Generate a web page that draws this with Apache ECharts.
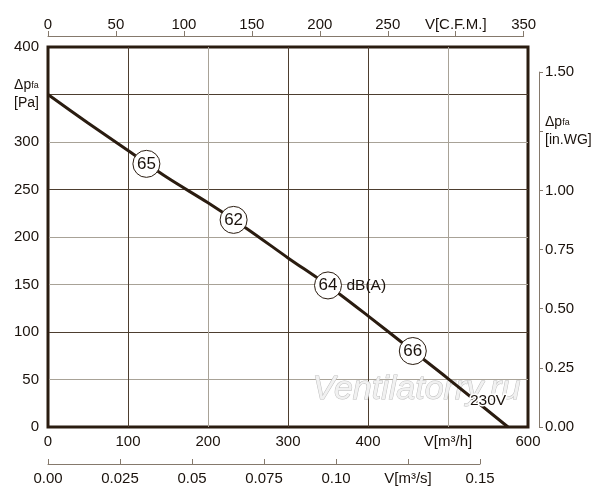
<!DOCTYPE html>
<html>
<head>
<meta charset="utf-8">
<script src="https://cdn.jsdelivr.net/npm/echarts@6/dist/echarts.min.js"></script>
</head>
<body style="margin:0">
<div id="main" style="width:600px;height:500px;"></div>
<script type="text/javascript">
    // характеристика вентилятора 230V
    var flow = [0, 50, 100, 150, 200, 250, 300, 350, 400, 450, 500, 575];
    var pressure = [350, 320, 291, 262, 236, 208, 178, 149, 117, 84, 51, 0];

    // точки шума, dB(A)
    var dbFlow = [123, 232, 350, 456];
    var dbPressure = [277, 218, 149, 80];
    var dbValues = [65, 62, 64, 66];

    // подписи осей
    var flowLabels = ['0', '100', '200', '300', '400', 'V[m³/h]', '600'];
    var paLabels = ['0', '50', '100', '150', '200', '250', '300', '{d|Δp}{s|fa}\n{u|[Pa]}', '400'];
    var cfmLabels = ['0', '50', '100', '150', '200', '250', 'V[C.F.M.]', '350'];
    var inwgLabels = ['0.00', '0.25', '0.50', '0.75', '1.00', '{d|Δp}{s|fa}\n{u|[in.WG]}', '1.50'];
    var m3sLabels = ['0.00', '0.025', '0.05', '0.075', '0.10', 'V[m³/s]', '0.15'];

    var dark = '#2a1c10';
    var mid = '#4d3e2f';
    var light = '#a8a297';
    var txt = '#1a120c';
    var aux = '#85796c';

    var richLabel = {
        d: {fontSize: 14, color: txt, align: 'left', lineHeight: 18},
        s: {fontSize: 9, color: txt, align: 'left', lineHeight: 14},
        u: {fontSize: 14, color: txt, align: 'left', lineHeight: 18}
    };

    var myChart = echarts.init(document.getElementById('main'));

    var option = {
        backgroundColor: '#fff',
        textStyle: {fontFamily: 'Liberation Sans, Arial, sans-serif'},
        grid: [
            {left: 48, top: 47, width: 480, height: 380, show: true, borderColor: dark, borderWidth: 3},
            {left: 48, top: 47, width: 475.7, height: 380},
            {left: 48, top: 72.05, width: 480, height: 354.95},
            {left: 48, top: 47, width: 432, height: 380}
        ],
        xAxis: [{
            type: 'value', gridIndex: 0, min: 0, max: 600, interval: 100,
            axisLine: {show: false}, axisTick: {show: false},
            axisLabel: {
                margin: 7, fontSize: 15, color: txt,
                formatter: function (v, i) { return flowLabels[i]; }
            },
            splitLine: {lineStyle: {width: 1, color: [dark, mid, light, mid, mid, light, dark]}}
        }, {
            type: 'value', gridIndex: 1, position: 'top', offset: 11,
            min: 0, max: 350, interval: 50,
            axisLine: {onZero: false, lineStyle: {color: aux, width: 1}},
            axisTick: {length: 5, lineStyle: {color: aux}},
            axisLabel: {
                margin: 4, fontSize: 15, color: txt,
                formatter: function (v, i) { return cfmLabels[i]; }
            },
            splitLine: {show: false}
        }, {
            type: 'value', gridIndex: 2, show: false, min: 0, max: 600
        }, {
            type: 'value', gridIndex: 3, position: 'bottom', offset: 37,
            min: 0, max: 0.15, interval: 0.025,
            axisLine: {onZero: false, lineStyle: {color: aux, width: 1}},
            axisTick: {inside: true, length: 5, lineStyle: {color: aux}},
            axisLabel: {
                margin: 7, fontSize: 15, color: txt,
                formatter: function (v, i) { return m3sLabels[i]; }
            },
            splitLine: {show: false}
        }],
        yAxis: [{
            type: 'value', gridIndex: 0, min: 0, max: 400, interval: 50,
            axisLine: {show: false}, axisTick: {show: false},
            axisLabel: {
                margin: 9, fontSize: 15, color: txt, rich: richLabel,
                formatter: function (v, i) { return paLabels[i]; }
            },
            splitLine: {lineStyle: {width: 1, color: [dark, light, mid, light, light, mid, light, mid, dark]}}
        }, {
            type: 'value', gridIndex: 1, show: false, min: 0, max: 400
        }, {
            type: 'value', gridIndex: 2, position: 'right', offset: 11,
            min: 0, max: 1.5, interval: 0.25,
            axisLine: {onZero: false, lineStyle: {color: aux, width: 1}},
            axisTick: {length: 4, lineStyle: {color: aux}},
            axisLabel: {
                margin: 6, fontSize: 15, color: txt, rich: richLabel,
                formatter: function (v, i) { return inwgLabels[i]; }
            },
            splitLine: {show: false}
        }, {
            type: 'value', gridIndex: 3, show: false, min: 0, max: 400
        }],
        graphic: [{
            type: 'text',
            left: 312,
            top: 372,
            z: 1,
            silent: true,
            style: {
                text: 'Ventilatorry.ru',
                font: 'italic 34px Liberation Sans, Arial, sans-serif',
                fill: '#f1f1f1',
                stroke: '#bdbdbd',
                lineWidth: 1
            }
        }],
        series: [{
            type: 'line',
            xAxisIndex: 0,
            yAxisIndex: 0,
            smooth: 0.3,
            showSymbol: false,
            z: 3,
            lineStyle: {color: dark, width: 3},
            data: flow.map(function (f, i) { return [f, pressure[i]]; })
        }, {
            type: 'scatter',
            xAxisIndex: 0,
            yAxisIndex: 0,
            symbol: 'circle',
            symbolSize: 27,
            z: 4,
            itemStyle: {color: '#fff', borderColor: dark, borderWidth: 1, opacity: 1},
            label: {
                show: true, position: 'inside', fontSize: 17, color: txt,
                formatter: function (p) { return p.value[2]; }
            },
            data: dbFlow.map(function (f, i) { return [f, dbPressure[i], dbValues[i]]; })
        }, {
            type: 'scatter',
            xAxisIndex: 0,
            yAxisIndex: 0,
            symbolSize: 27,
            z: 4,
            itemStyle: {color: 'rgba(0,0,0,0)', opacity: 1},
            label: {
                show: true, position: 'right', distance: 5, fontSize: 15.5, color: txt,
                formatter: 'dB(A)'
            },
            data: [[dbFlow[2], dbPressure[2]]]
        }, {
            type: 'scatter',
            xAxisIndex: 0,
            yAxisIndex: 0,
            symbolSize: 1,
            z: 4,
            itemStyle: {color: 'rgba(0,0,0,0)', opacity: 1},
            label: {
                show: true, position: 'inside', fontSize: 15.5, color: txt,
                textBorderColor: '#fff', textBorderWidth: 3,
                formatter: '230V'
            },
            data: [[550, 28]]
        }]
    };

    myChart.setOption(option);
</script>
</body>
</html>
